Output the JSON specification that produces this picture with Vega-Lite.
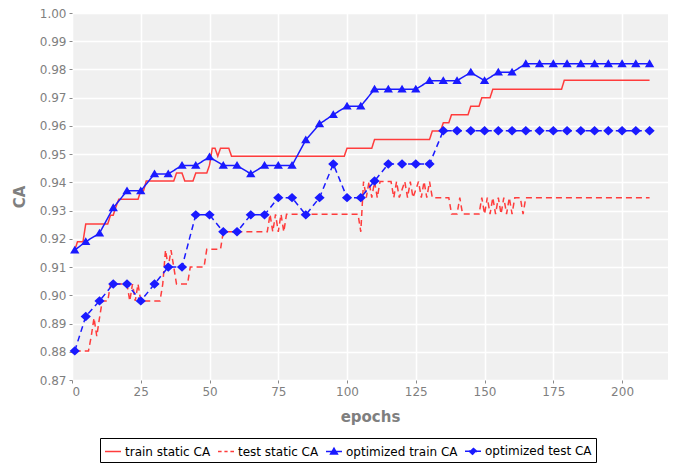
{
  "$schema": "https://vega.github.io/schema/vega-lite/v6.json",
  "width": 596,
  "height": 367,
  "autosize": "none",
  "padding": {"left": 72, "top": 13, "right": 17, "bottom": 83},
  "background": "white",
  "data": {"values": [
    {"series": "train static CA", "epoch": 1, "CA": 0.916},
    {"series": "train static CA", "epoch": 2, "CA": 0.919},
    {"series": "train static CA", "epoch": 4, "CA": 0.919},
    {"series": "train static CA", "epoch": 5, "CA": 0.9253},
    {"series": "train static CA", "epoch": 13, "CA": 0.9253},
    {"series": "train static CA", "epoch": 14, "CA": 0.9284},
    {"series": "train static CA", "epoch": 15, "CA": 0.9284},
    {"series": "train static CA", "epoch": 16, "CA": 0.9314},
    {"series": "train static CA", "epoch": 17, "CA": 0.934},
    {"series": "train static CA", "epoch": 24, "CA": 0.934},
    {"series": "train static CA", "epoch": 25, "CA": 0.937},
    {"series": "train static CA", "epoch": 26, "CA": 0.937},
    {"series": "train static CA", "epoch": 27, "CA": 0.9405},
    {"series": "train static CA", "epoch": 37, "CA": 0.9405},
    {"series": "train static CA", "epoch": 38, "CA": 0.9433},
    {"series": "train static CA", "epoch": 40, "CA": 0.9433},
    {"series": "train static CA", "epoch": 41, "CA": 0.9405},
    {"series": "train static CA", "epoch": 44, "CA": 0.9405},
    {"series": "train static CA", "epoch": 45, "CA": 0.9433},
    {"series": "train static CA", "epoch": 49, "CA": 0.9433},
    {"series": "train static CA", "epoch": 50, "CA": 0.9461},
    {"series": "train static CA", "epoch": 51, "CA": 0.9521},
    {"series": "train static CA", "epoch": 52, "CA": 0.9521},
    {"series": "train static CA", "epoch": 53, "CA": 0.9493},
    {"series": "train static CA", "epoch": 54, "CA": 0.9521},
    {"series": "train static CA", "epoch": 57, "CA": 0.9521},
    {"series": "train static CA", "epoch": 58, "CA": 0.9493},
    {"series": "train static CA", "epoch": 99, "CA": 0.9493},
    {"series": "train static CA", "epoch": 100, "CA": 0.9521},
    {"series": "train static CA", "epoch": 109, "CA": 0.9521},
    {"series": "train static CA", "epoch": 110, "CA": 0.9552},
    {"series": "train static CA", "epoch": 130, "CA": 0.9552},
    {"series": "train static CA", "epoch": 131, "CA": 0.9582},
    {"series": "train static CA", "epoch": 134, "CA": 0.9582},
    {"series": "train static CA", "epoch": 135, "CA": 0.9611},
    {"series": "train static CA", "epoch": 137, "CA": 0.9611},
    {"series": "train static CA", "epoch": 138, "CA": 0.964},
    {"series": "train static CA", "epoch": 144, "CA": 0.964},
    {"series": "train static CA", "epoch": 145, "CA": 0.967},
    {"series": "train static CA", "epoch": 148, "CA": 0.967},
    {"series": "train static CA", "epoch": 149, "CA": 0.97},
    {"series": "train static CA", "epoch": 152, "CA": 0.97},
    {"series": "train static CA", "epoch": 153, "CA": 0.973},
    {"series": "train static CA", "epoch": 178, "CA": 0.973},
    {"series": "train static CA", "epoch": 179, "CA": 0.9762},
    {"series": "train static CA", "epoch": 210, "CA": 0.9762},

    {"series": "test static CA", "epoch": 1, "CA": 0.8803},
    {"series": "test static CA", "epoch": 6, "CA": 0.8803},
    {"series": "test static CA", "epoch": 7, "CA": 0.8855},
    {"series": "test static CA", "epoch": 8, "CA": 0.892},
    {"series": "test static CA", "epoch": 9, "CA": 0.8855},
    {"series": "test static CA", "epoch": 10, "CA": 0.892},
    {"series": "test static CA", "epoch": 11, "CA": 0.898},
    {"series": "test static CA", "epoch": 13, "CA": 0.898},
    {"series": "test static CA", "epoch": 14, "CA": 0.904},
    {"series": "test static CA", "epoch": 20, "CA": 0.904},
    {"series": "test static CA", "epoch": 21, "CA": 0.898},
    {"series": "test static CA", "epoch": 22, "CA": 0.904},
    {"series": "test static CA", "epoch": 23, "CA": 0.898},
    {"series": "test static CA", "epoch": 24, "CA": 0.904},
    {"series": "test static CA", "epoch": 25, "CA": 0.898},
    {"series": "test static CA", "epoch": 32, "CA": 0.898},
    {"series": "test static CA", "epoch": 33, "CA": 0.904},
    {"series": "test static CA", "epoch": 34, "CA": 0.916},
    {"series": "test static CA", "epoch": 35, "CA": 0.910},
    {"series": "test static CA", "epoch": 36, "CA": 0.916},
    {"series": "test static CA", "epoch": 37, "CA": 0.910},
    {"series": "test static CA", "epoch": 38, "CA": 0.904},
    {"series": "test static CA", "epoch": 42, "CA": 0.904},
    {"series": "test static CA", "epoch": 43, "CA": 0.910},
    {"series": "test static CA", "epoch": 48, "CA": 0.910},
    {"series": "test static CA", "epoch": 49, "CA": 0.9163},
    {"series": "test static CA", "epoch": 54, "CA": 0.9163},
    {"series": "test static CA", "epoch": 55, "CA": 0.9225},
    {"series": "test static CA", "epoch": 71, "CA": 0.9225},
    {"series": "test static CA", "epoch": 72, "CA": 0.9287},
    {"series": "test static CA", "epoch": 73, "CA": 0.9225},
    {"series": "test static CA", "epoch": 74, "CA": 0.9287},
    {"series": "test static CA", "epoch": 75, "CA": 0.9225},
    {"series": "test static CA", "epoch": 76, "CA": 0.9287},
    {"series": "test static CA", "epoch": 77, "CA": 0.9225},
    {"series": "test static CA", "epoch": 78, "CA": 0.9287},
    {"series": "test static CA", "epoch": 104, "CA": 0.9287},
    {"series": "test static CA", "epoch": 105, "CA": 0.9225},
    {"series": "test static CA", "epoch": 106, "CA": 0.9403},
    {"series": "test static CA", "epoch": 107, "CA": 0.9346},
    {"series": "test static CA", "epoch": 108, "CA": 0.9403},
    {"series": "test static CA", "epoch": 109, "CA": 0.9346},
    {"series": "test static CA", "epoch": 110, "CA": 0.9403},
    {"series": "test static CA", "epoch": 111, "CA": 0.9346},
    {"series": "test static CA", "epoch": 112, "CA": 0.9403},
    {"series": "test static CA", "epoch": 116, "CA": 0.9403},
    {"series": "test static CA", "epoch": 117, "CA": 0.9346},
    {"series": "test static CA", "epoch": 118, "CA": 0.9403},
    {"series": "test static CA", "epoch": 119, "CA": 0.9346},
    {"series": "test static CA", "epoch": 121, "CA": 0.9403},
    {"series": "test static CA", "epoch": 122, "CA": 0.9346},
    {"series": "test static CA", "epoch": 123, "CA": 0.9403},
    {"series": "test static CA", "epoch": 124, "CA": 0.9346},
    {"series": "test static CA", "epoch": 126, "CA": 0.9403},
    {"series": "test static CA", "epoch": 127, "CA": 0.9346},
    {"series": "test static CA", "epoch": 128, "CA": 0.9403},
    {"series": "test static CA", "epoch": 129, "CA": 0.9346},
    {"series": "test static CA", "epoch": 130, "CA": 0.9403},
    {"series": "test static CA", "epoch": 131, "CA": 0.9346},
    {"series": "test static CA", "epoch": 137, "CA": 0.9346},
    {"series": "test static CA", "epoch": 138, "CA": 0.9288},
    {"series": "test static CA", "epoch": 140, "CA": 0.9288},
    {"series": "test static CA", "epoch": 141, "CA": 0.9346},
    {"series": "test static CA", "epoch": 142, "CA": 0.9288},
    {"series": "test static CA", "epoch": 148, "CA": 0.9288},
    {"series": "test static CA", "epoch": 149, "CA": 0.9346},
    {"series": "test static CA", "epoch": 150, "CA": 0.9288},
    {"series": "test static CA", "epoch": 151, "CA": 0.9346},
    {"series": "test static CA", "epoch": 152, "CA": 0.9288},
    {"series": "test static CA", "epoch": 153, "CA": 0.9346},
    {"series": "test static CA", "epoch": 154, "CA": 0.9288},
    {"series": "test static CA", "epoch": 155, "CA": 0.9346},
    {"series": "test static CA", "epoch": 156, "CA": 0.9288},
    {"series": "test static CA", "epoch": 157, "CA": 0.9346},
    {"series": "test static CA", "epoch": 158, "CA": 0.9288},
    {"series": "test static CA", "epoch": 159, "CA": 0.9346},
    {"series": "test static CA", "epoch": 160, "CA": 0.9288},
    {"series": "test static CA", "epoch": 161, "CA": 0.9346},
    {"series": "test static CA", "epoch": 163, "CA": 0.9346},
    {"series": "test static CA", "epoch": 164, "CA": 0.9288},
    {"series": "test static CA", "epoch": 165, "CA": 0.9346},
    {"series": "test static CA", "epoch": 210, "CA": 0.9346},

    {"series": "optimized train CA", "epoch": 1, "CA": 0.916},
    {"series": "optimized train CA", "epoch": 5, "CA": 0.919},
    {"series": "optimized train CA", "epoch": 10, "CA": 0.922},
    {"series": "optimized train CA", "epoch": 15, "CA": 0.931},
    {"series": "optimized train CA", "epoch": 20, "CA": 0.937},
    {"series": "optimized train CA", "epoch": 25, "CA": 0.937},
    {"series": "optimized train CA", "epoch": 30, "CA": 0.943},
    {"series": "optimized train CA", "epoch": 35, "CA": 0.943},
    {"series": "optimized train CA", "epoch": 40, "CA": 0.946},
    {"series": "optimized train CA", "epoch": 45, "CA": 0.946},
    {"series": "optimized train CA", "epoch": 50, "CA": 0.949},
    {"series": "optimized train CA", "epoch": 55, "CA": 0.946},
    {"series": "optimized train CA", "epoch": 60, "CA": 0.946},
    {"series": "optimized train CA", "epoch": 65, "CA": 0.943},
    {"series": "optimized train CA", "epoch": 70, "CA": 0.946},
    {"series": "optimized train CA", "epoch": 75, "CA": 0.946},
    {"series": "optimized train CA", "epoch": 80, "CA": 0.946},
    {"series": "optimized train CA", "epoch": 85, "CA": 0.955},
    {"series": "optimized train CA", "epoch": 90, "CA": 0.9607},
    {"series": "optimized train CA", "epoch": 95, "CA": 0.964},
    {"series": "optimized train CA", "epoch": 100, "CA": 0.967},
    {"series": "optimized train CA", "epoch": 105, "CA": 0.967},
    {"series": "optimized train CA", "epoch": 110, "CA": 0.973},
    {"series": "optimized train CA", "epoch": 115, "CA": 0.973},
    {"series": "optimized train CA", "epoch": 120, "CA": 0.973},
    {"series": "optimized train CA", "epoch": 125, "CA": 0.973},
    {"series": "optimized train CA", "epoch": 130, "CA": 0.976},
    {"series": "optimized train CA", "epoch": 135, "CA": 0.976},
    {"series": "optimized train CA", "epoch": 140, "CA": 0.976},
    {"series": "optimized train CA", "epoch": 145, "CA": 0.979},
    {"series": "optimized train CA", "epoch": 150, "CA": 0.976},
    {"series": "optimized train CA", "epoch": 155, "CA": 0.979},
    {"series": "optimized train CA", "epoch": 160, "CA": 0.979},
    {"series": "optimized train CA", "epoch": 165, "CA": 0.982},
    {"series": "optimized train CA", "epoch": 170, "CA": 0.982},
    {"series": "optimized train CA", "epoch": 175, "CA": 0.982},
    {"series": "optimized train CA", "epoch": 180, "CA": 0.982},
    {"series": "optimized train CA", "epoch": 185, "CA": 0.982},
    {"series": "optimized train CA", "epoch": 190, "CA": 0.982},
    {"series": "optimized train CA", "epoch": 195, "CA": 0.982},
    {"series": "optimized train CA", "epoch": 200, "CA": 0.982},
    {"series": "optimized train CA", "epoch": 205, "CA": 0.982},
    {"series": "optimized train CA", "epoch": 210, "CA": 0.982},

    {"series": "optimized test CA", "epoch": 1, "CA": 0.8803},
    {"series": "optimized test CA", "epoch": 5, "CA": 0.8925},
    {"series": "optimized test CA", "epoch": 10, "CA": 0.898},
    {"series": "optimized test CA", "epoch": 15, "CA": 0.904},
    {"series": "optimized test CA", "epoch": 20, "CA": 0.904},
    {"series": "optimized test CA", "epoch": 25, "CA": 0.898},
    {"series": "optimized test CA", "epoch": 30, "CA": 0.904},
    {"series": "optimized test CA", "epoch": 35, "CA": 0.910},
    {"series": "optimized test CA", "epoch": 40, "CA": 0.910},
    {"series": "optimized test CA", "epoch": 45, "CA": 0.9285},
    {"series": "optimized test CA", "epoch": 50, "CA": 0.9285},
    {"series": "optimized test CA", "epoch": 55, "CA": 0.9225},
    {"series": "optimized test CA", "epoch": 60, "CA": 0.9225},
    {"series": "optimized test CA", "epoch": 65, "CA": 0.9285},
    {"series": "optimized test CA", "epoch": 70, "CA": 0.9285},
    {"series": "optimized test CA", "epoch": 75, "CA": 0.9346},
    {"series": "optimized test CA", "epoch": 80, "CA": 0.9346},
    {"series": "optimized test CA", "epoch": 85, "CA": 0.9285},
    {"series": "optimized test CA", "epoch": 90, "CA": 0.9346},
    {"series": "optimized test CA", "epoch": 95, "CA": 0.9465},
    {"series": "optimized test CA", "epoch": 100, "CA": 0.9346},
    {"series": "optimized test CA", "epoch": 105, "CA": 0.9346},
    {"series": "optimized test CA", "epoch": 110, "CA": 0.9405},
    {"series": "optimized test CA", "epoch": 115, "CA": 0.9465},
    {"series": "optimized test CA", "epoch": 120, "CA": 0.9465},
    {"series": "optimized test CA", "epoch": 125, "CA": 0.9465},
    {"series": "optimized test CA", "epoch": 130, "CA": 0.9465},
    {"series": "optimized test CA", "epoch": 135, "CA": 0.9583},
    {"series": "optimized test CA", "epoch": 140, "CA": 0.9583},
    {"series": "optimized test CA", "epoch": 145, "CA": 0.9583},
    {"series": "optimized test CA", "epoch": 150, "CA": 0.9583},
    {"series": "optimized test CA", "epoch": 155, "CA": 0.9583},
    {"series": "optimized test CA", "epoch": 160, "CA": 0.9583},
    {"series": "optimized test CA", "epoch": 165, "CA": 0.9583},
    {"series": "optimized test CA", "epoch": 170, "CA": 0.9583},
    {"series": "optimized test CA", "epoch": 175, "CA": 0.9583},
    {"series": "optimized test CA", "epoch": 180, "CA": 0.9583},
    {"series": "optimized test CA", "epoch": 185, "CA": 0.9583},
    {"series": "optimized test CA", "epoch": 190, "CA": 0.9583},
    {"series": "optimized test CA", "epoch": 195, "CA": 0.9583},
    {"series": "optimized test CA", "epoch": 200, "CA": 0.9583},
    {"series": "optimized test CA", "epoch": 205, "CA": 0.9583},
    {"series": "optimized test CA", "epoch": 210, "CA": 0.9583}
  ]},
  "encoding": {
    "x": {
      "field": "epoch", "type": "quantitative",
      "scale": {"domain": [0, 216.7], "nice": false, "zero": false},
      "axis": {"values": [0, 25, 50, 75, 100, 125, 150, 175, 200], "title": "epochs", "titlePadding": 12}
    },
    "y": {
      "field": "CA", "type": "quantitative",
      "scale": {"domain": [0.87, 1.0], "nice": false, "zero": false},
      "axis": {"values": [0.87, 0.88, 0.89, 0.9, 0.91, 0.92, 0.93, 0.94, 0.95, 0.96, 0.97, 0.98, 0.99, 1.0], "format": ".2f", "title": "CA", "titlePadding": 12}
    },
    "color": {
      "field": "series", "type": "nominal",
      "scale": {"domain": ["train static CA", "test static CA", "optimized train CA", "optimized test CA"], "range": ["#ff3c3c", "#ff3c3c", "#1a1aff", "#1a1aff"]},
      "legend": {
        "title": null, "orient": "none", "legendX": 28, "legendY": 425, "direction": "horizontal", "columns": 4,
        "strokeColor": "black", "padding": 4, "labelFontSize": 12, "labelColor": "black", "symbolSize": 256,
        "labelOffset": 3, "columnPadding": 4,
        "encode": {"symbols": {"update": {"stroke": {"scale": "color", "field": "value"}, "strokeWidth": {"value": 1.5}, "fill": {"scale": "color", "field": "value"}, "size": {"value": 256}, "opacity": {"value": 1}, "strokeDash": {"value": [1, 0]}}}}
      }
    }
  },
  "layer": [
    {
      "mark": {"type": "line", "strokeWidth": 1.5, "clip": true},
      "encoding": {
        "strokeDash": {
          "field": "series", "type": "nominal",
          "scale": {"domain": ["train static CA", "test static CA", "optimized train CA", "optimized test CA"], "range": [[1, 0], [6, 4], [1, 0], [6, 4]]},
          "legend": null
        }
      }
    },
    {
      "transform": [{"filter": {"field": "series", "oneOf": ["optimized train CA", "optimized test CA"]}}],
      "mark": {"type": "point", "filled": true, "size": 494, "opacity": 1, "color": "#0000ff"},
      "encoding": {
        "shape": {
          "field": "series", "type": "nominal",
          "scale": {"domain": ["train static CA", "test static CA", "optimized train CA", "optimized test CA"], "range": ["M-1,0H1", "M-1,0H-0.55M-0.2,0H0.2M0.55,0H1", "M-1,0H1M0,-0.4L0.42,0.3L-0.42,0.3Z", "M-1,0H1M0,-0.42L0.46,0L0,0.42L-0.46,0Z"]},
          "legend": {
            "title": null, "orient": "none", "legendX": 28, "legendY": 425, "direction": "horizontal", "columns": 4,
            "strokeColor": "black", "padding": 4, "labelFontSize": 12, "labelColor": "black", "symbolSize": 256,
            "labelOffset": 3, "columnPadding": 4
          }
        }
      }
    }
  ],
  "config": {
    "font": "DejaVu Sans",
    "view": {"fill": "#f0f0f0", "stroke": null},
    "axis": {
      "grid": true, "gridColor": "#ffffff", "gridWidth": 1.5, "gridOpacity": 1,
      "domain": false, "tickColor": "#8a8a8a", "tickSize": 3, "tickWidth": 1,
      "labelColor": "#7f7f7f", "labelFontSize": 12, "labelPadding": 3,
      "titleColor": "#7f7f7f", "titleFontSize": 15, "titleFontWeight": "bold"
    }
  }
}
